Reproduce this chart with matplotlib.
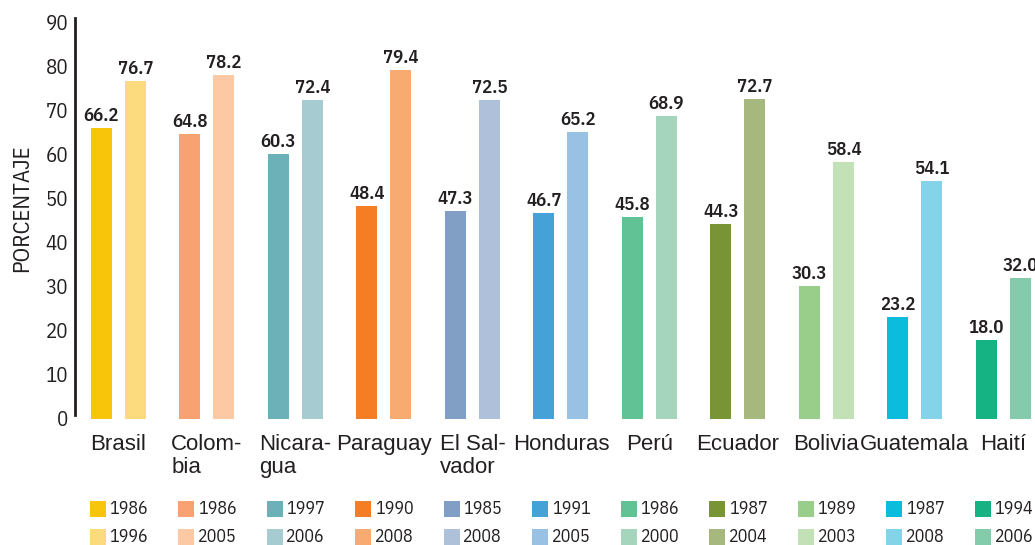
import numpy as np
import matplotlib
matplotlib.use("Agg")
from matplotlib import pyplot as plt
from matplotlib import transforms

countries = ["Brasil", "Colom-\nbia", "Nicara-\ngua", "Paraguay", "El Sal-\nvador",
             "Honduras", "Perú", "Ecuador", "Bolivia", "Guatemala", "Haití"]
years_first = ["1986", "1986", "1997", "1990", "1985", "1991", "1986", "1987", "1989", "1987", "1994"]
years_second = ["1996", "2005", "2006", "2008", "2008", "2005", "2000", "2004", "2003", "2008", "2006"]
values_first = [66.2, 64.8, 60.3, 48.4, 47.3, 46.7, 45.8, 44.3, 30.3, 23.2, 18.0]
values_second = [76.7, 78.2, 72.4, 79.4, 72.5, 65.2, 68.9, 72.7, 58.4, 54.1, 32.0]
colors_first = ["#F8C50B", "#F9A271", "#6CB0B8", "#F57E25", "#819FC5", "#45A2D6",
                "#61C295", "#799437", "#99CE8A", "#0BBCDC", "#15B384"]
colors_second = ["#FCDA7E", "#FDC8A4", "#A6CCD1", "#F8AB70", "#AFC0DA", "#98C1E4",
                 "#A5D5BC", "#A6B87D", "#C2E1B7", "#85D3E8", "#83CBAA"]
yticks = [0, 10, 20, 30, 40, 50, 60, 70, 80, 90]

TXT = "#231F20"
NARROW = ["IBM Plex Sans Condensed", "Liberation Sans", "DejaVu Sans"]
REG = ["Liberation Sans", "DejaVu Sans"]

W, H = 1035, 545
fig = plt.figure(figsize=(W / 100, H / 100), dpi=100)
ax = fig.add_axes([75 / W, 1 - 419 / H, (W - 75) / W, (419 - 18) / H])

x = np.arange(len(countries))
off = 17 / 88.5
bw = 21 / 88.5
ax.bar(x - off, values_first, width=bw, color=colors_first)
ax.bar(x + off, values_second, width=bw, color=colors_second)

for xi, v1, v2 in zip(x, values_first, values_second):
    for xx, v in ((xi - off, v1), (xi + off, v2)):
        ax.annotate(f"{v:.1f}", (xx, v), xytext=(0, 5), textcoords="offset points",
                    ha="center", va="baseline", fontsize=13.5, fontweight=600,
                    family=NARROW, color=TXT)

ax.set_xlim(-0.49, 10.356)
ax.set_ylim(0, 91.1)
ax.set_yticks(yticks)
ax.set_yticklabels([str(t) for t in yticks], family=NARROW, fontsize=15, color=TXT)
ax.tick_params(axis="y", length=0, pad=5)
ax.set_xticks([])
for s in ("top", "right", "bottom"):
    ax.spines[s].set_visible(False)
ax.spines["left"].set_linewidth(2)
ax.spines["left"].set_color(TXT)
ax.spines["left"].set_bounds(1, 91.1)

fig.text(22 / W, 1 - 208 / H, "PORCENTAJE", rotation=90, ha="center", va="center",
         fontsize=16.5, family=NARROW, color=TXT)

trans = transforms.blended_transform_factory(ax.transData, fig.transFigure)
for xi, name in zip(x, countries):
    ax.text(xi, 1 - 434 / H, name, transform=trans, ha="center", va="top",
            multialignment="left", linespacing=1.1, fontsize=16, family=REG, color=TXT)

row1 = 1 - 509 / H
row2 = 1 - 537 / H
sq_off = -20.5 / 88.5
tx_off = -9 / 88.5
ax.scatter(x + sq_off, [row1] * len(x), transform=trans, marker="s", s=132,
           c=colors_first, clip_on=False, linewidths=0)
ax.scatter(x + sq_off, [row2] * len(x), transform=trans, marker="s", s=132,
           c=colors_second, clip_on=False, linewidths=0)
for xi, y1, y2 in zip(x, years_first, years_second):
    ax.text(xi + tx_off, row1, y1, transform=trans, ha="left", va="center",
            fontsize=13, family=NARROW, color=TXT)
    ax.text(xi + tx_off, row2, y2, transform=trans, ha="left", va="center",
            fontsize=13, family=NARROW, color=TXT)

fig.savefig("out.png", dpi=100)
